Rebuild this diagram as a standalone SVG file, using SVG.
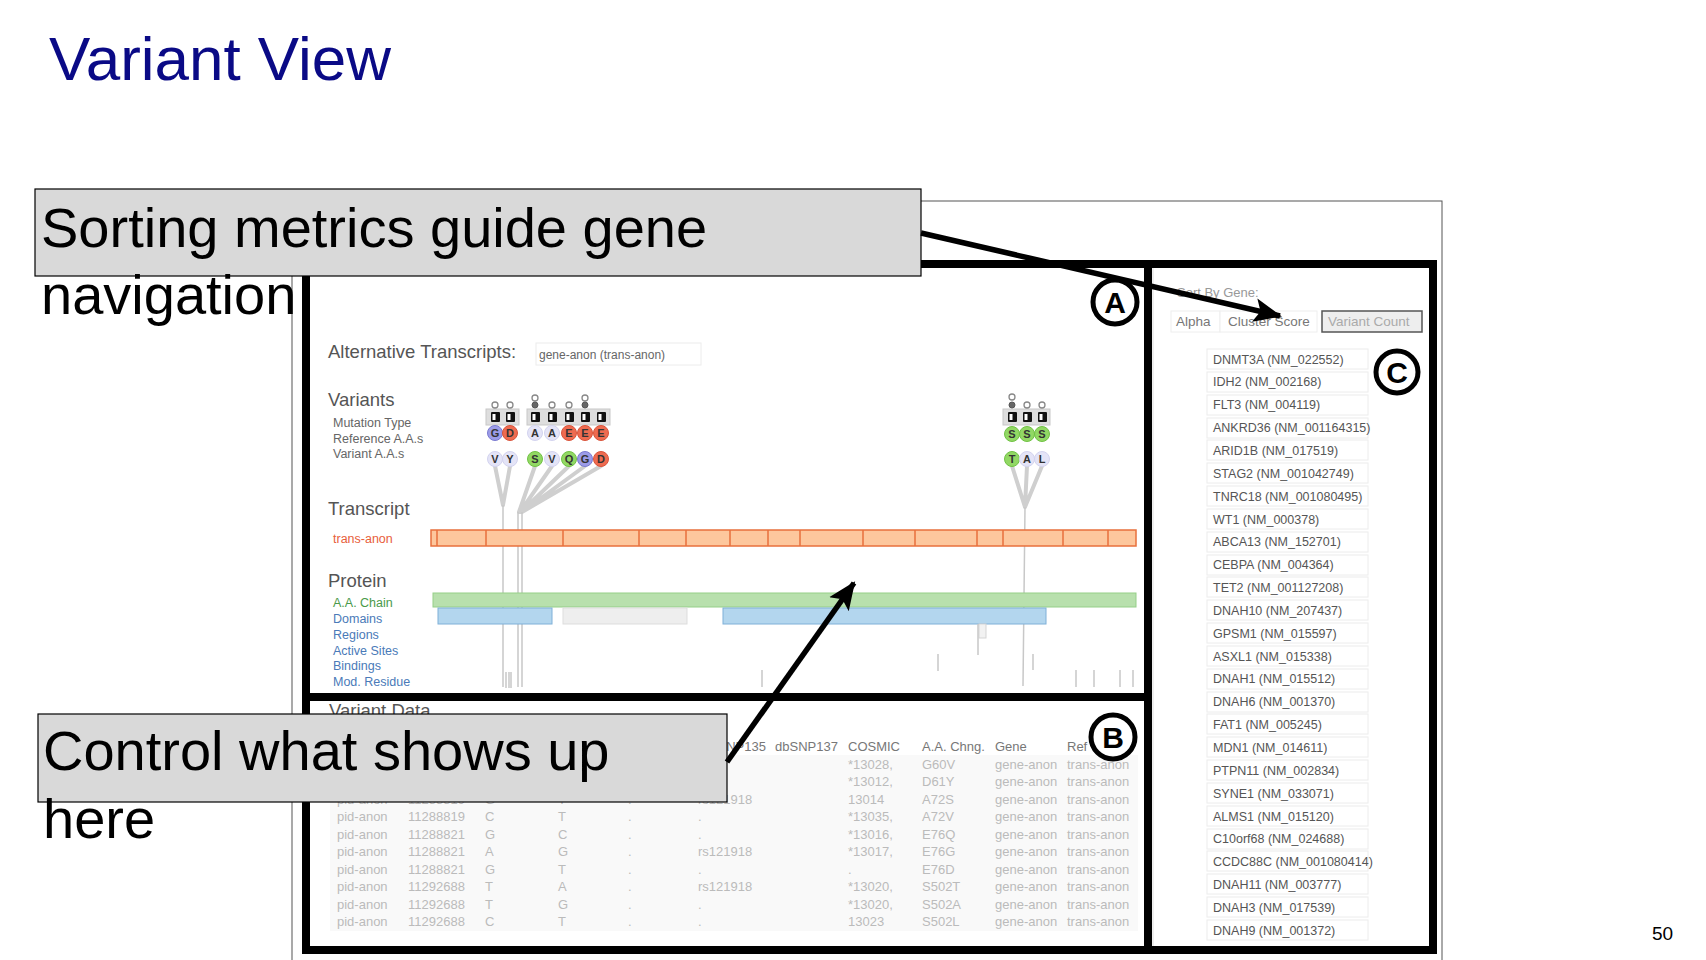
<svg xmlns="http://www.w3.org/2000/svg" width="1706" height="960" viewBox="0 0 1706 960">
<defs>
<style>
text{font-family:"Liberation Sans",Arial,sans-serif}
.h{font-size:18.5px;fill:#555}
.sm{font-size:12.5px;fill:#666}
.gl{font-size:12.5px;fill:#555}
.gb{fill:#fff;stroke:#ececec;stroke-width:1}
.td{font-size:13px;fill:#bbb}
.th{font-size:13px;fill:#777}
.aa{font-size:11px;fill:#333;text-anchor:middle;font-weight:bold}
.pur{fill:#9c9ce8;stroke:#7a7ad0}
.red{fill:#ee6b50;stroke:#d9533a}
.lav{fill:#e4e4f7;stroke:#d3d3ef}
.grn{fill:#92d864;stroke:#70c244}
.stem{stroke:#cfcfcf;stroke-width:4;stroke-linecap:round;fill:none}
.vl{stroke:#c8c8c8;stroke-width:1.5;fill:none}
.tick{stroke:#c8c8c8;stroke-width:1.5}
.thick{stroke:#000;stroke-width:8;fill:none}
.ring{fill:none;stroke:#000;stroke-width:5}
.lab{font-size:30px;font-weight:bold;fill:#000;text-anchor:middle}
.call{fill:#d9d9d9;stroke:#000;stroke-width:1.2}
.ct{font-size:56px;fill:#000}
.arr{stroke:#000;stroke-width:5.5;fill:none}
</style>
<marker id="ah" markerUnits="userSpaceOnUse" markerWidth="30" markerHeight="26" refX="26" refY="13" orient="auto">
<path d="M0,1 L28,13 L0,25 L6,13 Z" fill="#000"/>
</marker>
</defs>

<!-- title -->
<text id="title" x="49" y="79.5" font-size="61" fill="#0a0a86" textLength="342" lengthAdjust="spacingAndGlyphs">Variant View</text>

<!-- screenshot frame -->
<rect id="frame" x="292" y="201" width="1150" height="800" fill="#fff" stroke="#555" stroke-width="1"/>

<!-- Panel A -->
<g id="panelA">
<text class="h" x="328" y="358">Alternative Transcripts:</text>
<rect x="536" y="343" width="165" height="22" fill="#fff" stroke="#ececec"/>
<text class="sm" x="539" y="359" style="font-size:12px">gene-anon (trans-anon)</text>
<text class="h" x="328" y="406">Variants</text>
<text class="sm" x="333" y="427">Mutation Type</text>
<text class="sm" x="333" y="443">Reference A.A.s</text>
<text class="sm" x="333" y="458">Variant A.A.s</text>

<!-- stems -->
<g id="stems">
<path class="stem" d="M495,466 L503,505 M510,466 L503,505"/>
<path class="stem" d="M535,466 L519,512 M552,466 L520,512 M569,466 L521,512 M585,466 L522,512 M601,466 L522,512"/>
<path class="stem" d="M1012,466 L1025,507 M1027,466 L1025,507 M1042,466 L1025,507"/>
<path class="vl" d="M503,505 L503,687 M518,512 L518,687 M522,512 L522,687 M1025,507 L1023,686"/>
<path class="tick" d="M506,672 L506,688 M509,672 L509,688 M511,672 L511,688"/>
</g>

<!-- mutation type rows -->
<g id="mut">
<rect x="486" y="409" width="33" height="16" fill="#dedede" stroke="#c8c8c8"/>
<rect x="527" y="409" width="83" height="16" fill="#dedede" stroke="#c8c8c8"/>
<rect x="1003" y="409" width="47" height="16" fill="#dedede" stroke="#c8c8c8"/>
<g fill="#111">
<rect x="491" y="412" width="9" height="10" rx="1"/><rect x="506" y="412" width="9" height="10" rx="1"/>
<rect x="531" y="412" width="9" height="10" rx="1"/><rect x="548" y="412" width="9" height="10" rx="1"/><rect x="565" y="412" width="9" height="10" rx="1"/><rect x="581" y="412" width="9" height="10" rx="1"/><rect x="597" y="412" width="9" height="10" rx="1"/>
<rect x="1008" y="412" width="9" height="10" rx="1"/><rect x="1023" y="412" width="9" height="10" rx="1"/><rect x="1038" y="412" width="9" height="10" rx="1"/>
</g>
<g fill="#fff">
<rect x="492.5" y="414" width="3" height="6"/><rect x="507.5" y="414" width="3" height="6"/>
<rect x="532.5" y="414" width="3" height="6"/><rect x="549.5" y="414" width="3" height="6"/><rect x="566.5" y="414" width="3" height="6"/><rect x="582.5" y="414" width="3" height="6"/><rect x="598.5" y="414" width="3" height="6"/>
<rect x="1009.5" y="414" width="3" height="6"/><rect x="1024.5" y="414" width="3" height="6"/><rect x="1039.5" y="414" width="3" height="6"/>
</g>
<g fill="#fff" stroke="#888" stroke-width="1.3">
<circle cx="495" cy="405" r="3"/><circle cx="510" cy="405" r="3"/>
<circle cx="535" cy="398" r="3"/><circle cx="552" cy="405" r="3"/><circle cx="569" cy="405" r="3"/><circle cx="585" cy="398" r="3"/>
<circle cx="1012" cy="397" r="3"/><circle cx="1027" cy="405" r="3"/><circle cx="1042" cy="405" r="3"/>
</g>
<g fill="#666" stroke="#555" stroke-width="1">
<circle cx="535" cy="405" r="3"/><circle cx="585" cy="405" r="3"/><circle cx="1012" cy="405" r="3"/>
</g>
</g>

<!-- amino acid circles -->
<g id="aas">
<circle class="pur" cx="495" cy="433" r="7.5"/><text class="aa" x="495" y="437">G</text>
<circle class="red" cx="510" cy="433" r="7.5"/><text class="aa" x="510" y="437">D</text>
<circle class="lav" cx="535" cy="433" r="7.5"/><text class="aa" x="535" y="437">A</text>
<circle class="lav" cx="552" cy="433" r="7.5"/><text class="aa" x="552" y="437">A</text>
<circle class="red" cx="569" cy="433" r="7.5"/><text class="aa" x="569" y="437">E</text>
<circle class="red" cx="585" cy="433" r="7.5"/><text class="aa" x="585" y="437">E</text>
<circle class="red" cx="601" cy="433" r="7.5"/><text class="aa" x="601" y="437">E</text>
<circle class="grn" cx="1012" cy="434" r="7.5"/><text class="aa" x="1012" y="438">S</text>
<circle class="grn" cx="1027" cy="434" r="7.5"/><text class="aa" x="1027" y="438">S</text>
<circle class="grn" cx="1042" cy="434" r="7.5"/><text class="aa" x="1042" y="438">S</text>

<circle class="lav" cx="495" cy="459" r="7.5"/><text class="aa" x="495" y="463">V</text>
<circle class="lav" cx="510" cy="459" r="7.5"/><text class="aa" x="510" y="463">Y</text>
<circle class="grn" cx="535" cy="459" r="7.5"/><text class="aa" x="535" y="463">S</text>
<circle class="lav" cx="552" cy="459" r="7.5"/><text class="aa" x="552" y="463">V</text>
<circle class="grn" cx="569" cy="459" r="7.5"/><text class="aa" x="569" y="463">Q</text>
<circle class="pur" cx="585" cy="459" r="7.5"/><text class="aa" x="585" y="463">G</text>
<circle class="red" cx="601" cy="459" r="7.5"/><text class="aa" x="601" y="463">D</text>
<circle class="grn" cx="1012" cy="459" r="7.5"/><text class="aa" x="1012" y="463">T</text>
<circle class="lav" cx="1027" cy="459" r="7.5"/><text class="aa" x="1027" y="463">A</text>
<circle class="lav" cx="1042" cy="459" r="7.5"/><text class="aa" x="1042" y="463">L</text>
</g>

<text class="h" x="328" y="515">Transcript</text>
<text x="333" y="543" font-size="12.5" fill="#e8603c">trans-anon</text>
<rect x="431" y="530" width="705" height="16" fill="#fdc79d" stroke="#e8703c" stroke-width="1.5"/>
<path d="M437,530V546M486,530V546M563,530V546M639,530V546M686,530V546M730,530V546M768,530V546M800,530V546M863,530V546M915,530V546M977,530V546M1003,530V546M1063,530V546M1108,530V546" stroke="#e8703c" stroke-width="1.5"/>

<text class="h" x="328" y="587">Protein</text>
<text x="333" y="607" font-size="12.5" fill="#4a9a4a">A.A. Chain</text>
<g font-size="12.5" fill="#4a7ab8">
<text x="333" y="623">Domains</text>
<text x="333" y="639">Regions</text>
<text x="333" y="655">Active Sites</text>
<text x="333" y="670">Bindings</text>
<text x="333" y="686">Mod. Residue</text>
</g>
<rect x="433" y="593" width="703" height="14" fill="#b8e0ad" stroke="#95cf88"/>
<rect x="438" y="608" width="114" height="16" fill="#b3d6ee" stroke="#7fb0d8"/>
<rect x="563" y="608" width="124" height="16" fill="#eeeeee" stroke="#dddddd"/>
<rect x="723" y="608" width="323" height="16" fill="#b3d6ee" stroke="#7fb0d8"/>
<rect x="979" y="624" width="7" height="14" fill="#f2f2f2" stroke="#d5d5d5"/>
<path class="tick" d="M978,624V655M938,654V671M1033,654V670M762,670V687M1076,670V687M1094,670V687M1120,670V687M1133,670V687"/>
</g>

<!-- Panel B -->
<g id="panelB">
<text class="h" x="329" y="717">Variant Data</text>
<rect x="330" y="755" width="808" height="176" fill="#f9f9f9"/>
<g class="th">
<text x="703" y="751">dbSNP135</text><text x="775" y="751">dbSNP137</text><text x="848" y="751">COSMIC</text><text x="922" y="751">A.A. Chng.</text><text x="995" y="751">Gene</text><text x="1067" y="751">Ref</text>
</g>
<g class="td">
<text x="848" y="769">*13028,</text><text x="922" y="769">G60V</text><text x="995" y="769">gene-anon</text><text x="1067" y="769">trans-anon</text>
<text x="848" y="786">*13012,</text><text x="922" y="786">D61Y</text><text x="995" y="786">gene-anon</text><text x="1067" y="786">trans-anon</text>
<text x="337" y="804">pid-anon</text><text x="408" y="804">11288819</text><text x="485" y="804">G</text><text x="558" y="804">T</text><text x="628" y="804">.</text><text x="698" y="804">rs121918</text><text x="848" y="804">13014</text><text x="922" y="804">A72S</text><text x="995" y="804">gene-anon</text><text x="1067" y="804">trans-anon</text>
<text x="337" y="821">pid-anon</text><text x="408" y="821">11288819</text><text x="485" y="821">C</text><text x="558" y="821">T</text><text x="628" y="821">.</text><text x="698" y="821">.</text><text x="848" y="821">*13035,</text><text x="922" y="821">A72V</text><text x="995" y="821">gene-anon</text><text x="1067" y="821">trans-anon</text>
<text x="337" y="839">pid-anon</text><text x="408" y="839">11288821</text><text x="485" y="839">G</text><text x="558" y="839">C</text><text x="628" y="839">.</text><text x="698" y="839">.</text><text x="848" y="839">*13016,</text><text x="922" y="839">E76Q</text><text x="995" y="839">gene-anon</text><text x="1067" y="839">trans-anon</text>
<text x="337" y="856">pid-anon</text><text x="408" y="856">11288821</text><text x="485" y="856">A</text><text x="558" y="856">G</text><text x="628" y="856">.</text><text x="698" y="856">rs121918</text><text x="848" y="856">*13017,</text><text x="922" y="856">E76G</text><text x="995" y="856">gene-anon</text><text x="1067" y="856">trans-anon</text>
<text x="337" y="874">pid-anon</text><text x="408" y="874">11288821</text><text x="485" y="874">G</text><text x="558" y="874">T</text><text x="628" y="874">.</text><text x="698" y="874">.</text><text x="848" y="874">.</text><text x="922" y="874">E76D</text><text x="995" y="874">gene-anon</text><text x="1067" y="874">trans-anon</text>
<text x="337" y="891">pid-anon</text><text x="408" y="891">11292688</text><text x="485" y="891">T</text><text x="558" y="891">A</text><text x="628" y="891">.</text><text x="698" y="891">rs121918</text><text x="848" y="891">*13020,</text><text x="922" y="891">S502T</text><text x="995" y="891">gene-anon</text><text x="1067" y="891">trans-anon</text>
<text x="337" y="909">pid-anon</text><text x="408" y="909">11292688</text><text x="485" y="909">T</text><text x="558" y="909">G</text><text x="628" y="909">.</text><text x="698" y="909">.</text><text x="848" y="909">*13020,</text><text x="922" y="909">S502A</text><text x="995" y="909">gene-anon</text><text x="1067" y="909">trans-anon</text>
<text x="337" y="926">pid-anon</text><text x="408" y="926">11292688</text><text x="485" y="926">C</text><text x="558" y="926">T</text><text x="628" y="926">.</text><text x="698" y="926">.</text><text x="848" y="926">13023</text><text x="922" y="926">S502L</text><text x="995" y="926">gene-anon</text><text x="1067" y="926">trans-anon</text>
</g>
</g>

<!-- Panel C -->
<g id="panelC">
<text x="1177" y="297" font-size="13px" fill="#999">Sort By Gene:</text>
<rect x="1171" y="311" width="49" height="21" fill="#fff" stroke="#eeeeee"/>
<rect x="1220" y="311" width="97" height="21" fill="#fff" stroke="#eeeeee"/>
<rect x="1322" y="311" width="100" height="21" fill="#eeeeee" stroke="#555" stroke-width="1.5"/>
<text x="1176" y="325.5" font-size="13.5" fill="#777">Alpha</text>
<text x="1228" y="325.5" font-size="13.5" fill="#777">Cluster Score</text>
<text x="1328" y="325.5" font-size="13.5" fill="#aaa">Variant Count</text>
<g id="genes">
<rect class="gb" x="1207" y="349" width="161" height="20"/><text class="gl" x="1213" y="363.5">DNMT3A (NM_022552)</text>
<rect class="gb" x="1207" y="372" width="161" height="20"/><text class="gl" x="1213" y="386.4">IDH2 (NM_002168)</text>
<rect class="gb" x="1207" y="395" width="161" height="20"/><text class="gl" x="1213" y="409.2">FLT3 (NM_004119)</text>
<rect class="gb" x="1207" y="418" width="161" height="20"/><text class="gl" x="1213" y="432.1">ANKRD36 (NM_001164315)</text>
<rect class="gb" x="1207" y="440" width="161" height="20"/><text class="gl" x="1213" y="454.9">ARID1B (NM_017519)</text>
<rect class="gb" x="1207" y="463" width="161" height="20"/><text class="gl" x="1213" y="477.8">STAG2 (NM_001042749)</text>
<rect class="gb" x="1207" y="486" width="161" height="20"/><text class="gl" x="1213" y="500.6">TNRC18 (NM_001080495)</text>
<rect class="gb" x="1207" y="509" width="161" height="20"/><text class="gl" x="1213" y="523.5">WT1 (NM_000378)</text>
<rect class="gb" x="1207" y="532" width="161" height="20"/><text class="gl" x="1213" y="546.3">ABCA13 (NM_152701)</text>
<rect class="gb" x="1207" y="555" width="161" height="20"/><text class="gl" x="1213" y="569.2">CEBPA (NM_004364)</text>
<rect class="gb" x="1207" y="577" width="161" height="20"/><text class="gl" x="1213" y="592">TET2 (NM_001127208)</text>
<rect class="gb" x="1207" y="600" width="161" height="20"/><text class="gl" x="1213" y="614.9">DNAH10 (NM_207437)</text>
<rect class="gb" x="1207" y="623" width="161" height="20"/><text class="gl" x="1213" y="637.7">GPSM1 (NM_015597)</text>
<rect class="gb" x="1207" y="646" width="161" height="20"/><text class="gl" x="1213" y="660.6">ASXL1 (NM_015338)</text>
<rect class="gb" x="1207" y="669" width="161" height="20"/><text class="gl" x="1213" y="683.4">DNAH1 (NM_015512)</text>
<rect class="gb" x="1207" y="692" width="161" height="20"/><text class="gl" x="1213" y="706.3">DNAH6 (NM_001370)</text>
<rect class="gb" x="1207" y="714" width="161" height="20"/><text class="gl" x="1213" y="729.1">FAT1 (NM_005245)</text>
<rect class="gb" x="1207" y="737" width="161" height="20"/><text class="gl" x="1213" y="752">MDN1 (NM_014611)</text>
<rect class="gb" x="1207" y="760" width="161" height="20"/><text class="gl" x="1213" y="774.8">PTPN11 (NM_002834)</text>
<rect class="gb" x="1207" y="783" width="161" height="20"/><text class="gl" x="1213" y="797.7">SYNE1 (NM_033071)</text>
<rect class="gb" x="1207" y="806" width="161" height="20"/><text class="gl" x="1213" y="820.5">ALMS1 (NM_015120)</text>
<rect class="gb" x="1207" y="829" width="161" height="20"/><text class="gl" x="1213" y="843.4">C10orf68 (NM_024688)</text>
<rect class="gb" x="1207" y="851" width="161" height="20"/><text class="gl" x="1213" y="866.2">CCDC88C (NM_001080414)</text>
<rect class="gb" x="1207" y="874" width="161" height="20"/><text class="gl" x="1213" y="889.1">DNAH11 (NM_003777)</text>
<rect class="gb" x="1207" y="897" width="161" height="20"/><text class="gl" x="1213" y="911.9">DNAH3 (NM_017539)</text>
<rect class="gb" x="1207" y="920" width="161" height="20"/><text class="gl" x="1213" y="934.8">DNAH9 (NM_001372)</text>
</g>
</g>

<!-- thick panel borders -->
<g id="borders">
<rect class="thick" x="306" y="264" width="1127" height="686"/>
<path class="thick" d="M1148,264V950M306,697H1148"/>
<path d="M1153,268V946" stroke="#ddd" stroke-width="1"/>
</g>

<g id="labelA"><circle class="ring" cx="1115" cy="302" r="22"/><text class="lab" x="1115" y="313">A</text></g>
<g id="labelB"><circle class="ring" cx="1113" cy="737" r="22" fill="#fff"/><text class="lab" x="1113" y="748">B</text></g>
<g id="labelC"><circle class="ring" cx="1397" cy="372" r="21"/><text class="lab" x="1397" y="383">C</text></g>

<!-- callouts -->
<g id="callout1">
<rect class="call" x="35" y="189" width="886" height="87"/>
<text class="ct" x="41" y="247">Sorting metrics guide gene</text>
<text class="ct" x="41" y="314">navigation</text>
</g>
<g id="callout2">
<rect class="call" x="38" y="714" width="689" height="88"/>
<text class="ct" x="43" y="770">Control what shows up</text>
<text class="ct" x="43" y="838">here</text>
</g>

<g id="connectors">
<line class="arr" x1="921" y1="233" x2="1280" y2="316" marker-end="url(#ah)"/>
<line class="arr" x1="727" y1="762" x2="854" y2="583" marker-end="url(#ah)"/>
</g>

<text id="page" x="1652" y="940" font-size="19" fill="#000">50</text>
</svg>
